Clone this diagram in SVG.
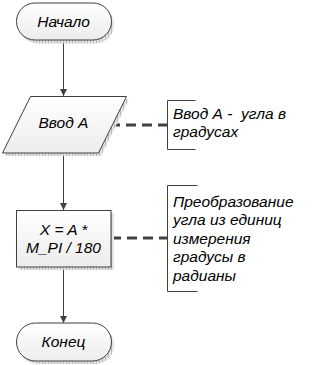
<svg xmlns="http://www.w3.org/2000/svg" width="320" height="365" viewBox="0 0 320 365">
<defs>
<linearGradient id="g" x1="0" y1="0" x2="0" y2="1">
<stop offset="0" stop-color="#ffffff"/>
<stop offset="1" stop-color="#ececec"/>
</linearGradient>
<pattern id="hatch" width="3" height="3" patternUnits="userSpaceOnUse">
<rect width="3" height="3" fill="#e4e4e4"/>
<rect width="1" height="3" fill="#b8b8b8"/>
</pattern>
<marker id="arr" markerWidth="8" markerHeight="8" refX="7" refY="4" orient="auto" markerUnits="userSpaceOnUse">
<path d="M0,0.5 L7,4 L0,7.5 Z" fill="#404040"/>
</marker>
</defs>
<style>
.shape{fill:url(#g);stroke:#404040;stroke-width:1}
.shadow{fill:url(#hatch);stroke:none}
.t{font-family:"Liberation Sans",Arial,sans-serif;font-style:italic;font-size:15.5px;fill:#000}
.c{text-anchor:middle}
.line{stroke:#404040;stroke-width:1;fill:none}
.dash{stroke:#404040;stroke-width:3;stroke-dasharray:10,6;fill:none}
.br{stroke:#404040;stroke-width:1;fill:none}
</style>
<g id="connectors">
<line class="line" x1="63.5" y1="40" x2="63.5" y2="96" marker-end="url(#arr)"/>
<line class="line" x1="63.5" y1="153" x2="63.5" y2="210" marker-end="url(#arr)"/>
<line class="line" x1="63.5" y1="267" x2="63.5" y2="323" marker-end="url(#arr)"/>
<line class="dash" x1="110" y1="125" x2="168" y2="125"/>
<line class="dash" x1="111" y1="238" x2="168" y2="238"/>
</g>
<g id="start">
<rect class="shadow" x="19" y="6" width="95" height="37.5" rx="18.75"/>
<rect class="shape" x="16.5" y="3" width="95" height="37" rx="18.5"/>
<text class="t c" x="63.5" y="26.5">Начало</text>
</g>
<g id="input">
<polygon class="shadow" points="33,99 129,99 101,156 5,156"/>
<polygon class="shape" points="30.5,96.5 126.5,96.5 98.5,153 2.5,153"/>
<text class="t c" x="63.5" y="128">Ввод А</text>
</g>
<g id="process">
<rect class="shadow" x="19" y="213" width="95" height="57"/>
<rect class="shape" x="16.5" y="210.5" width="94.5" height="56.5"/>
<text class="t c" x="63.5" y="235">X = A *</text>
<text class="t c" x="63.5" y="253">M_PI / 180</text>
</g>
<g id="end">
<rect class="shadow" x="19" y="326" width="95" height="38" rx="19"/>
<rect class="shape" x="16.5" y="323" width="95" height="38" rx="19"/>
<text class="t c" x="63.5" y="347">Конец</text>
</g>
<g id="note1">
<path class="br" d="M195.5,100.5 H167.5 V149.5 H195.5"/>
<text class="t" x="173" y="118.5" xml:space="preserve">Ввод А -  угла в</text>
<text class="t" x="173" y="137">градусах</text>
</g>
<g id="note2">
<path class="br" d="M197.5,185.5 H167.5 V291.5 H197.5"/>
<text class="t" x="173" y="206.5">Преобразование</text>
<text class="t" x="173" y="225">угла из единиц</text>
<text class="t" x="173" y="243.5">измерения</text>
<text class="t" x="173" y="262">градусы в</text>
<text class="t" x="173" y="280.5">радианы</text>
</g>
</svg>
